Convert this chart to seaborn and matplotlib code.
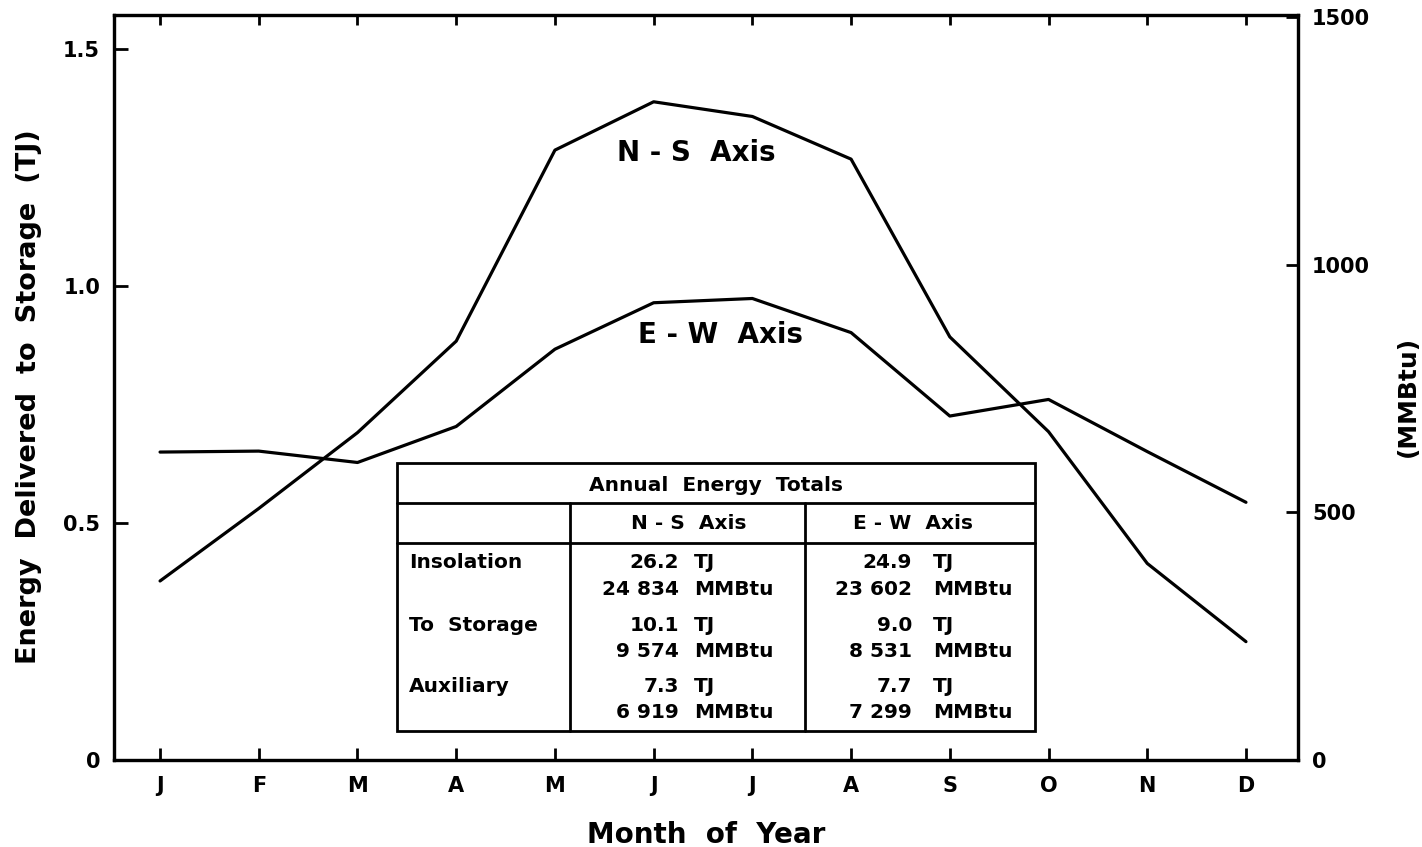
import numpy as np
import pandas as pd
import seaborn as sns
import matplotlib.pyplot as plt
from matplotlib.patches import Rectangle

# ==========================================
# DATA
# ==========================================

MONTHS = ["J", "F", "M", "A", "M", "J", "J", "A", "S", "O", "N", "D"]

# energy delivered to storage per month, TJ
NS_AXIS_TJ = [0.377, 0.530, 0.690, 0.883, 1.286, 1.388,
              1.357, 1.267, 0.892, 0.692, 0.414, 0.249]
EW_AXIS_TJ = [0.649, 0.651, 0.627, 0.703, 0.866, 0.964,
              0.973, 0.901, 0.725, 0.760, 0.650, 0.543]

LEFT_TICKS = [0, 0.5, 1.0, 1.5]
LEFT_TICK_LABELS = ["0", "0.5", "1.0", "1.5"]
RIGHT_TICKS = [0, 500, 1000, 1500]

# annual totals table
TABLE_TITLE = "Annual  Energy  Totals"
TABLE_COLUMNS = ["N - S  Axis", "E - W  Axis"]
TABLE_ROWS = ["Insolation", "To  Storage", "Auxiliary"]
NS_TOTALS_TJ = ["26.2", "10.1", "7.3"]
NS_TOTALS_MMBTU = ["24 834", "9 574", "6 919"]
EW_TOTALS_TJ = ["24.9", "9.0", "7.7"]
EW_TOTALS_MMBTU = ["23 602", "8 531", "7 299"]

# ==========================================

sns.set_theme(style="ticks")
plt.rcParams['font.family'] = ['DejaVu Sans']
plt.rcParams['font.weight'] = 'bold'
for key in ["text.color", "axes.labelcolor", "xtick.color", "ytick.color",
            "axes.edgecolor"]:
    plt.rcParams[key] = "black"

fig = plt.figure(figsize=(14.22, 8.47), dpi=100)
ax = fig.add_axes([0.0802, 0.1031, 0.8326, 0.8797])

df = pd.DataFrame({
    "month": list(range(len(MONTHS))) * 2,
    "energy": NS_AXIS_TJ + EW_AXIS_TJ,
    "series": ["N-S"] * len(MONTHS) + ["E-W"] * len(MONTHS),
})

sns.lineplot(data=df, x="month", y="energy", hue="series",
             palette={"N-S": "black", "E-W": "black"},
             linewidth=2.3, legend=False, ax=ax)

ax.set_xlim(-0.466, 11.527)
ax.set_ylim(0, 1.572)
ax.set_xticks(range(len(MONTHS)))
ax.set_xticklabels(MONTHS, fontweight="bold")
ax.set_yticks(LEFT_TICKS)
ax.set_yticklabels(LEFT_TICK_LABELS, fontweight="bold")
ax.tick_params(axis="y", direction="in", length=10, width=2,
               labelsize=15, pad=10)
ax.tick_params(axis="x", direction="in", length=9, width=2,
               labelsize=15, pad=12, top=True)
for tick in ax.xaxis.get_major_ticks():
    tick.tick2line.set_markersize(7)

ax.set_xlabel("Month  of  Year", fontsize=20, fontweight="bold",
              labelpad=18)
ax.set_ylabel("Energy  Delivered  to  Storage  (TJ)", fontsize=19.5,
              fontweight="bold")
ax.yaxis.set_label_coords(-0.061, 0.487)

# right axis in MMBtu
ax2 = ax.twinx()
ax2.set_ylim(0, 1505)
ax2.set_yticks(RIGHT_TICKS)
ax2.set_yticklabels([str(v) for v in RIGHT_TICKS], fontweight="bold")
ax2.tick_params(axis="y", direction="in", length=9, width=2,
                labelsize=15, pad=10)
ax2.set_ylabel("(MMBtu)", fontsize=18, fontweight="bold", rotation=90)
ax2.yaxis.set_label_coords(1.083, 0.487)

for a in (ax, ax2):
    for sp in a.spines.values():
        sp.set_linewidth(2.3)
        sp.set_color("black")

# curve labels
ax.text(5.43, 1.28, "N - S  Axis", fontsize=20, fontweight="bold",
        ha="center", va="center")
ax.text(5.68, 0.896, "E - W  Axis", fontsize=20, fontweight="bold",
        ha="center", va="center")

# annual totals table (axes-fraction layout)
tl, tr, tt, tb = 0.239, 0.778, 0.398, 0.0385
c1, c2 = 0.385, 0.584
r1, r2 = 0.345, 0.291
lw = 2.0
ax.add_patch(Rectangle((tl, tb), tr - tl, tt - tb, transform=ax.transAxes,
                       facecolor="white", edgecolor="black", lw=lw, zorder=5))
ax.plot([tl, tr], [r1, r1], transform=ax.transAxes, color="black", lw=lw, zorder=6)
ax.plot([tl, tr], [r2, r2], transform=ax.transAxes, color="black", lw=lw, zorder=6)
ax.plot([c1, c1], [tb, r1], transform=ax.transAxes, color="black", lw=lw, zorder=6)
ax.plot([c2, c2], [tb, r1], transform=ax.transAxes, color="black", lw=lw, zorder=6)

fs = 14.5
tkw = dict(transform=ax.transAxes, fontsize=fs, fontweight="bold", zorder=7,
           va="center", color="black")
ax.text((tl + tr) / 2, 0.368, TABLE_TITLE, ha="center", **tkw)
ax.text(0.485, 0.317, TABLE_COLUMNS[0], ha="center", **tkw)
ax.text(0.675, 0.317, TABLE_COLUMNS[1], ha="center", **tkw)

row_y = [0.264, 0.180, 0.098]
gap = 0.035
for i, name in enumerate(TABLE_ROWS):
    y1, y2 = row_y[i], row_y[i] - gap
    ax.text(0.249, y1, name, ha="left", **tkw)
    ax.text(0.477, y1, NS_TOTALS_TJ[i], ha="right", **tkw)
    ax.text(0.490, y1, "TJ", ha="left", **tkw)
    ax.text(0.477, y2, NS_TOTALS_MMBTU[i], ha="right", **tkw)
    ax.text(0.490, y2, "MMBtu", ha="left", **tkw)
    ax.text(0.674, y1, EW_TOTALS_TJ[i], ha="right", **tkw)
    ax.text(0.692, y1, "TJ", ha="left", **tkw)
    ax.text(0.674, y2, EW_TOTALS_MMBTU[i], ha="right", **tkw)
    ax.text(0.692, y2, "MMBtu", ha="left", **tkw)

fig.savefig("out.png", dpi=100, facecolor="white")
